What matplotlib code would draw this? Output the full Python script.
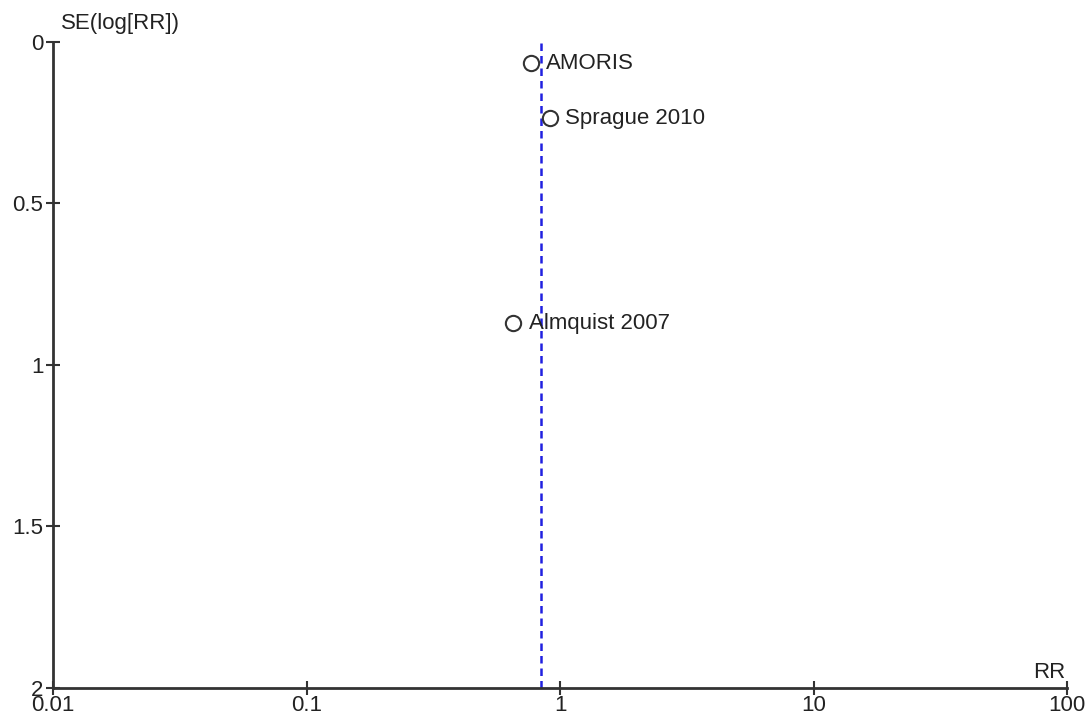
import matplotlib
matplotlib.use("Agg")
import matplotlib.pyplot as plt

# study estimates (RR) and standard errors of log RR
studies = ["AMORIS", "Sprague 2010", "Almquist 2007"]
rr = [0.766, 0.914, 0.655]
se = [0.067, 0.237, 0.871]
pooled_rr = 0.839

x_ticks = [0.01, 0.1, 1, 10, 100]
x_labels = ["0.01", "0.1", "1", "10", "100"]
y_ticks = [0, 0.5, 1, 1.5, 2]
y_labels = ["0", "0.5", "1", "1.5", "2"]

plt.rcParams['font.family'] = ['Liberation Sans', 'DejaVu Sans']
fs = 16
dark = '#333333'

fig = plt.figure(figsize=(10.88, 7.18), dpi=100)
ax = fig.add_axes([53/1088, 30/718, 1014/1088, 646.3/718])

ax.set_xscale('log')
ax.set_xlim(0.01, 100)
ax.set_ylim(2, 0)

ax.axvline(pooled_rr, color='#2020e0', linestyle=(0, (3, 2)), linewidth=1.8)
ax.plot(rr, se, 'o', markersize=11, markerfacecolor='white',
        markeredgecolor=dark, markeredgewidth=1.5, linestyle='none', zorder=3)
for name, x, y in zip(studies, rr, se):
    ax.annotate(name, (x, y), xytext=(11, 0), textcoords='offset points',
                va='center', ha='left', fontsize=fs, color='#222222')

for s in ['top', 'right']:
    ax.spines[s].set_visible(False)
for s in ['left', 'bottom']:
    ax.spines[s].set_color(dark)
    ax.spines[s].set_linewidth(2)

ax.set_xticks(x_ticks)
ax.set_xticklabels(x_labels)
ax.minorticks_off()
ax.set_yticks(y_ticks)
ax.set_yticklabels(y_labels)
ax.tick_params(axis='both', direction='inout', length=10, width=1.5,
               color=dark, labelsize=fs, labelcolor='#222222', pad=0)
ax.tick_params(axis='y', pad=2)

ax.text(0.008, 1.012, "SE(log[RR])", transform=ax.transAxes, fontsize=fs,
        ha='left', va='bottom', color='#222222')
ax.text(0.998, 0.008, "RR", transform=ax.transAxes, fontsize=fs,
        ha='right', va='bottom', color='#222222')

fig.savefig("out.png", dpi=100)
